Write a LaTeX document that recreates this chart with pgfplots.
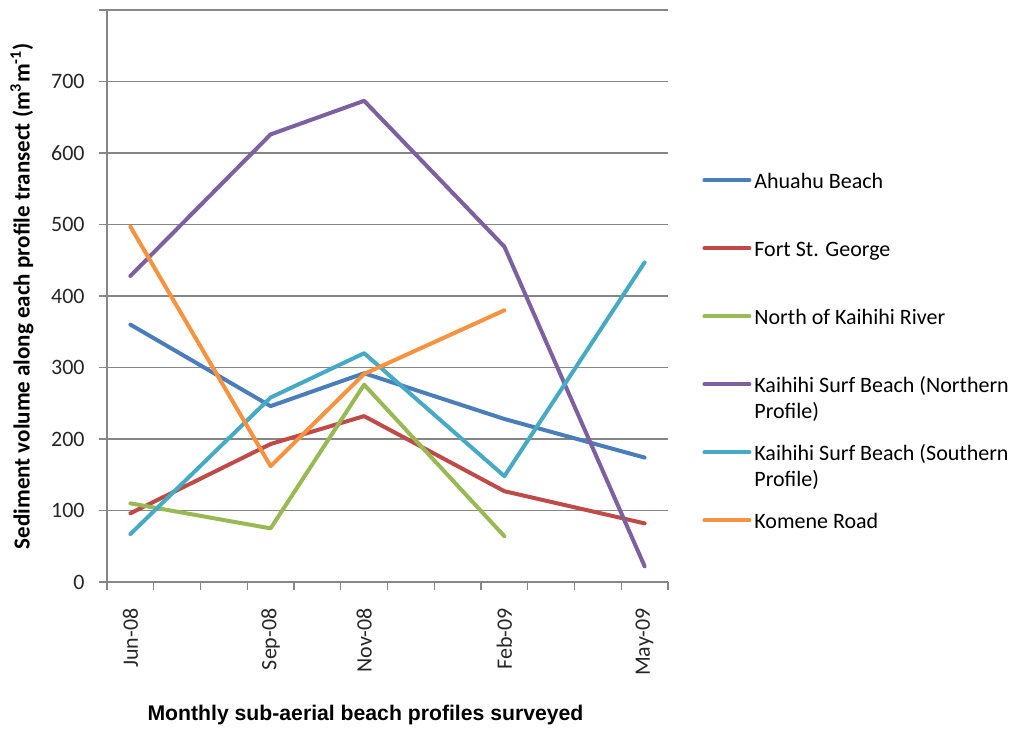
\documentclass[border=0pt]{standalone}
\usepackage{pgfplots}
\pgfplotsset{compat=1.18}
\usepackage{fontspec}
\setmainfont{Carlito}
\newfontfamily\arialfont{Liberation Sans}
\definecolor{cAhu}{HTML}{4A7EBB}
\definecolor{cFort}{HTML}{BE4B48}
\definecolor{cNorth}{HTML}{98B954}
\definecolor{cKN}{HTML}{7D60A0}
\definecolor{cKS}{HTML}{46AAC5}
\definecolor{cKom}{HTML}{F69240}
\definecolor{gridgray}{HTML}{868686}
\definecolor{ticktext}{HTML}{262626}
\begin{document}
\begin{tikzpicture}
\useasboundingbox (-53.5pt,-73.5pt) rectangle (455pt,291pt);
\begin{axis}[
  scale only axis, width=280.5pt, height=286pt,
  xmin=-0.5, xmax=11.5, ymin=0, ymax=800,
  axis x line*=bottom, axis y line*=left,
  axis line style={draw=gridgray, line width=0.6pt},
  every tick/.style={draw=gridgray, line width=0.6pt},
  tick align=outside, major tick length=4pt,
  ytick={0,100,200,300,400,500,600,700,800},
  yticklabels={0,100,200,300,400,500,600,700,{}},
  ymajorgrids, grid style={draw=gridgray, line width=0.6pt},
  xtick={-0.5,0.5,1.5,2.5,3.5,4.5,5.5,6.5,7.5,8.5,9.5,10.5,11.5},
  xticklabels={{},{},{},{},{},{},{},{},{},{},{},{},{}},
  extra x ticks={0,3,5,8,11},
  extra x tick labels={Jun-08,Sep-08,Nov-08,Feb-09,May-09},
  extra x tick style={major tick length=0pt, grid=none,
    xticklabel style={rotate=90, anchor=east, inner sep=0pt}},
  xticklabel shift=13pt,
  tick label style={font=\fontsize{11}{13}\selectfont, text=ticktext},
  yticklabel style={inner sep=0pt},
  yticklabel shift=7pt,
  /pgf/number format/assume math mode=true,
  legend cell align=left,
  legend image code/.code={\draw[#1] (0pt,0pt) -- (22.5pt,0pt);},
  legend style={draw=none, fill=none, at={(axis description cs:1,1)},
    anchor=north west, xshift=17pt, yshift=-81pt, inner sep=0pt,
    row sep=26pt, column sep=1.5pt,
    nodes={inner sep=0pt, text height=8pt, text depth=0pt,
      font=\fontsize{11}{13}\selectfont}},
  every axis plot/.append style={line width=2pt, line join=round, line cap=round},
]
\addplot[cAhu] coordinates {(0,360) (3,246) (5,292) (8,228) (11,174)};
\addlegendentry{Ahuahu Beach}
\addplot[cFort] coordinates {(0,96) (3,193) (5,232) (8,127) (11,82)};
\addlegendentry{Fort St. George}
\addplot[cNorth] coordinates {(0,110) (3,75) (5,276) (8,64)};
\addlegendentry{North of Kaihihi River}
\addplot[cKN] coordinates {(0,428) (3,626) (5,673) (8,469) (11,22)};
\addlegendentry{\begin{tabular}[t]{@{}l@{}}Kaihihi Surf Beach (Northern\\Profile)\end{tabular}}
\addplot[cKS] coordinates {(0,67) (3,258) (5,320) (8,148) (11,447)};
\addlegendentry{\begin{tabular}[t]{@{}l@{}}Kaihihi Surf Beach (Southern\\Profile)\end{tabular}}
\addplot[cKom] coordinates {(0,497) (3,162) (5,291) (8,380)};
\addlegendentry{Komene Road}
\end{axis}
\node[rotate=90, font=\bfseries\fontsize{11.5}{13}\selectfont] at (-42.5pt,143pt)
  {Sediment volume along each profile transect (m\textsuperscript{3}m\textsuperscript{-1})};
\node[font=\arialfont\bfseries\fontsize{10.6}{12}\selectfont] at (129.25pt,-66.5pt)
  {Monthly sub-aerial beach profiles surveyed};
\end{tikzpicture}
\end{document}
